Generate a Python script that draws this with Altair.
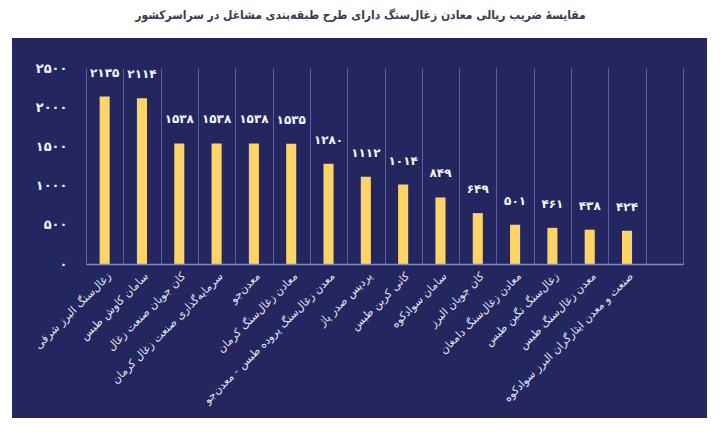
import altair as alt
import pandas as pd

title_text = "مقایسهٔ ضریب ریالی معادن زغال‌سنگ دارای طرح طبقه‌بندی مشاغل در سراسرکشور"

companies = [
    "زغال‌سنگ البرز شرقی",
    "سامان کاوش طبس",
    "کان جویان صنعت زغال",
    "سرمایه‌گذاری صنعت زغال کرمان",
    "معدن‌جو",
    "معادن زغال‌سنگ کرمان",
    "معدن زغال‌سنگ پروده طبس - معدن‌جو",
    "پردیس صدر پاژ",
    "کانی کربن طبس",
    "سامان سوادکوه",
    "کان جویان البرز",
    "معادن زغال‌سنگ دامغان",
    "زغال‌سنگ نگین طبس",
    "معدن زغال‌سنگ طبس",
    "صنعت و معدن ایثارگران البرز سوادکوه",
]
values = [2135, 2114, 1538, 1538, 1538, 1535, 1280, 1112, 1014, 849, 649, 501, 461, 438, 424]
y_ticks = [0, 500, 1000, 1500, 2000, 2500]

FA = str.maketrans("0123456789", "۰۱۲۳۴۵۶۷۸۹")


def fa(n):
    return str(n).translate(FA)


df = pd.DataFrame({"name": companies, "value": values, "label": [fa(v) for v in values]})
domain = companies + [" "]

label_expr = " : ".join(f"datum.value == {t} ? '{fa(t)}'" for t in y_ticks) + " : ''"

NAVY = "#24275f"
YELLOW = "#fdd468"
FONT = "DejaVu Sans"

x_scale = alt.Scale(domain=domain, paddingInner=0, paddingOuter=0)
y_scale = alt.Scale(domain=[0, 2500], nice=False)

x_enc = alt.X(
    "name:N",
    sort=None,
    scale=x_scale,
    axis=alt.Axis(
        title=None,
        labelAngle=-45,
        labelAlign="right",
        labelBaseline="top",
        labelColor="#e6e7f3",
        labelFont=FONT,
        labelFontSize=11,
        labelPadding=6,
        ticks=False,
        tickBand="extent",
        grid=True,
        gridColor="#5a5f9f",
        gridWidth=1,
        domainColor="#8085c4",
        domainWidth=1.5,
        zindex=1,
        labelOverlap=False,
        labelLimit=300,
    ),
)
y_enc = alt.Y(
    "value:Q",
    scale=y_scale,
    axis=alt.Axis(
        title=None,
        values=y_ticks,
        labelExpr=label_expr,
        labelColor="#f2f2f8",
        labelFont=FONT,
        labelFontSize=13,
        labelFontWeight="bold",
        labelPadding=19,
        labelOverlap=False,
        labelFlush=False,
        labelBound=False,
        ticks=False,
        domain=False,
        grid=False,
        zindex=1,
    ),
)

bg = alt.Chart(df).mark_rect(color=NAVY).encode(
    x=alt.value(-74), x2=alt.value(621), y=alt.value(-30), y2=alt.value(350)
)

bars = alt.Chart(df).mark_bar(color=YELLOW, width=alt.RelativeBandSize(0.27)).encode(
    x=x_enc, y=y_enc
)

text = alt.Chart(df).mark_text(
    color="#f4f4fa", font=FONT, fontSize=12, fontWeight="bold", baseline="middle", dy=-24
).encode(x=x_enc, y=y_enc, text="label:N")

chart = (
    alt.layer(bg, bars, text)
    .properties(
        width=597,
        height=196,
        padding={"left": 78, "top": 60, "right": 29, "bottom": 162},
        autosize=alt.AutoSizeParams(type="none"),
        background="white",
        title=alt.TitleParams(
            title_text,
            frame="group",
            anchor="middle",
            dx=-24,
            offset=16,
            font="DejaVu Sans Condensed",
            fontSize=12,
            fontWeight="bold",
            color="#3b3c52",
        ),
    )
    .configure_view(stroke=None)
    .configure_axisY(labelOverlap=False)
)

chart.save("out.html", embed_options={"renderer": "svg", "actions": False})
